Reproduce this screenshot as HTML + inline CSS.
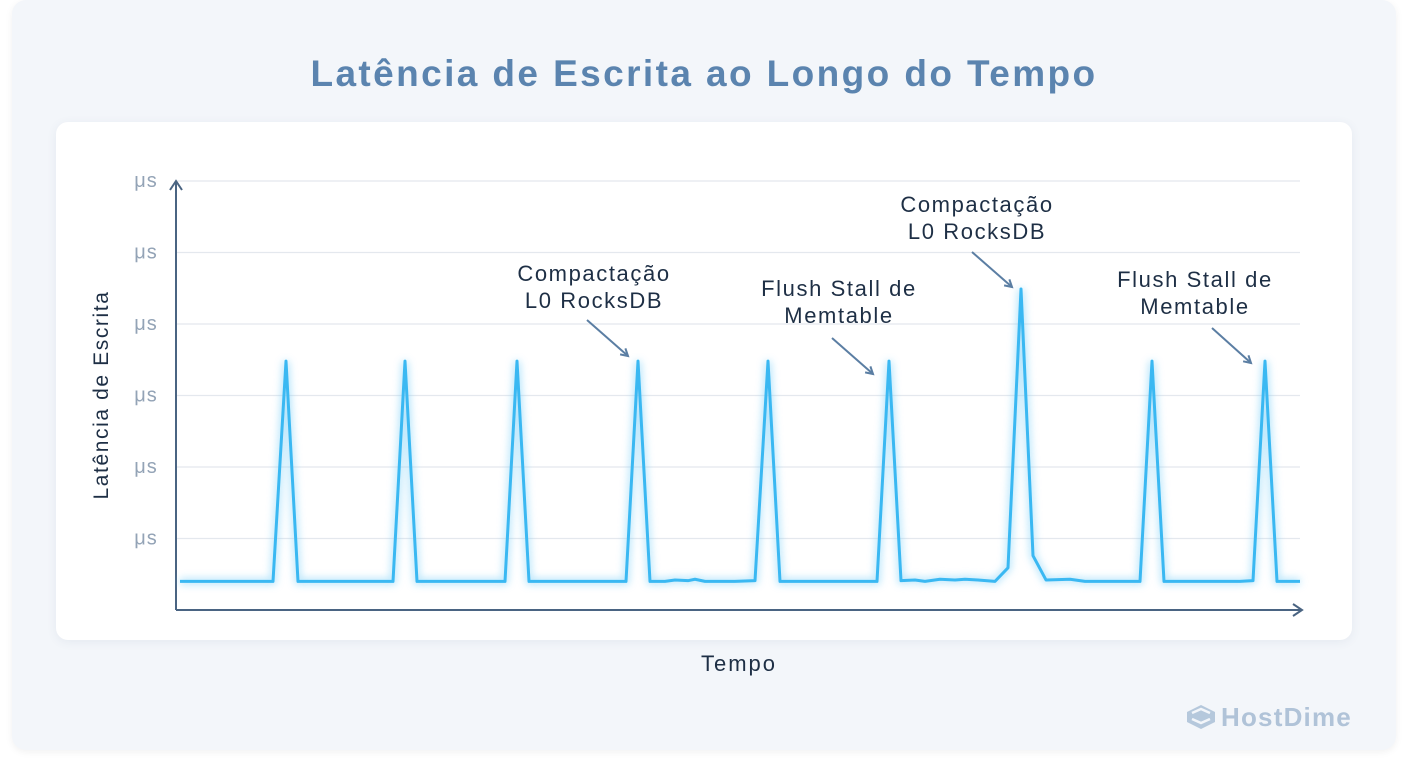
<!DOCTYPE html>
<html><head><meta charset="utf-8"><style>
body{margin:0;width:1408px;height:768px;background:#fff;font-family:"Liberation Sans",sans-serif;overflow:hidden}
#outer{position:absolute;left:12px;top:0;width:1384px;height:750px;background:#f3f6fa;border-radius:14px;box-shadow:0 2px 8px rgba(0,0,0,0.06)}
#panel{position:absolute;left:56px;top:122px;width:1296px;height:518px;background:#fff;border-radius:12px;box-shadow:0 2px 10px rgba(60,90,130,0.08)}
#title{position:absolute;left:0;width:1408px;top:53px;text-align:center;font-size:37px;letter-spacing:2.4px;font-weight:bold;color:#5b84af}
svg{position:absolute;left:0;top:0}
</style></head><body>
<div id="outer"></div>
<div id="panel"></div>
<div id="title">Latência de Escrita ao Longo do Tempo</div>
<svg id="chart" width="1408" height="768"></svg>
<script>
const yTicks=[1,2,3,4,5,6];
const yTickLabels=["μs","μs","μs","μs","μs","μs"];
const times=[4,97,110,122,217,229,241,329,341,353,450,462,474,489,499,512,519,529,539,559,579,592,604,701,713,725,739,749,764,779,789,802,819,832,845,857,870,894,909,964,976,988,1064,1077,1089,1101,1124];
const latency=[0.4,0.4,3.48,0.4,0.4,3.48,0.4,0.4,3.48,0.4,0.4,3.48,0.4,0.4,0.42,0.41,0.43,0.4,0.4,0.4,0.41,3.48,0.4,0.4,3.48,0.41,0.42,0.4,0.43,0.42,0.43,0.42,0.4,0.59,4.49,0.76,0.42,0.43,0.4,0.4,3.48,0.4,0.4,0.41,3.48,0.4,0.4];
const annotations=[
 {t:462,v:3.48,lines:["Compactação","L0 RocksDB"],lx:594,ly:281,ax:[587,320,628,356]},
 {t:713,v:3.48,lines:["Flush Stall de","Memtable"],lx:839,ly:296,ax:[832,338,873,374]},
 {t:845,v:4.49,lines:["Compactação","L0 RocksDB"],lx:977,ly:212,ax:[972,252,1012,287]},
 {t:1089,v:3.48,lines:["Flush Stall de","Memtable"],lx:1195,ly:287,ax:[1212,328,1251,363]}
];
const X=t=>176+t;
const Y=v=>610-v*71.5;
const svg=document.getElementById('chart');
const NS='http://www.w3.org/2000/svg';
function mk(tag,attrs,parent){const e=document.createElementNS(NS,tag);for(const k in attrs)e.setAttribute(k,attrs[k]);(parent||svg).appendChild(e);return e;}
const defs=mk('defs',{});
defs.innerHTML='<filter id="glow" x="-5%" y="-20%" width="110%" height="140%"><feGaussianBlur stdDeviation="4"/></filter><marker id="ah" markerWidth="10" markerHeight="10" refX="8" refY="5" orient="auto" markerUnits="userSpaceOnUse"><path d="M1,1 L8,5 L1,9" fill="none" stroke="#5b7ea3" stroke-width="2"/></marker>';
yTicks.forEach((v,i)=>{
 const g=mk('line',{x1:176,x2:1300,y1:Y(v),y2:Y(v),stroke:'#e4e8ee','stroke-width':1.2});
 
 
 const t=mk('text',{x:146,y:Y(v)+6,'text-anchor':'middle','font-size':20,'letter-spacing':1,fill:'#93a3b6'});
 t.textContent=yTickLabels[i];
 
 
});
const ya=mk('path',{d:'M176,610 L176,182 M170,190 L176,181 L182,190',stroke:'#4a6482','stroke-width':2,fill:'none'});


const xa=mk('path',{d:'M176,610 L1301,610 M1293,604 L1302,610 L1293,616',stroke:'#4a6482','stroke-width':2,fill:'none'});


const d=times.map((t,i)=>(i?'L':'M')+X(t)+','+Y(latency[i])).join(' ');
const glow=mk('path',{d:d,stroke:'#7fd0f8','stroke-width':6,fill:'none',opacity:0.6,filter:'url(#glow)'});


const line=mk('path',{d:d,stroke:'#3ab8f2','stroke-width':3,fill:'none','stroke-linejoin':'round'});


annotations.forEach(a=>{
 a.lines.forEach((s,j)=>{
  const t=mk('text',{x:a.lx,y:a.ly+j*27,'text-anchor':'middle','font-size':22,'letter-spacing':1.6,fill:'#1e2f45'});
  t.textContent=s;
  
  
 });
 const ar=mk('line',{x1:a.ax[0],y1:a.ax[1],x2:a.ax[2],y2:a.ax[3],stroke:'#5b7ea3','stroke-width':2,'marker-end':'url(#ah)'});
 
 
});
const yt=mk('text',{x:0,y:0,'text-anchor':'middle','font-size':21,'letter-spacing':1.6,fill:'#1e2f45',transform:'translate(108,395) rotate(-90)'});
yt.textContent='Latência de Escrita';


const xt=mk('text',{x:739,y:671,'text-anchor':'middle','font-size':22,'letter-spacing':2,fill:'#1e2f45'});
xt.textContent='Tempo';


const logo=mk('g',{});


mk('path',{d:'M1187,712 L1201,705 L1215,712 L1215,722 L1201,729 L1187,722 Z',fill:'#b5c8dc'},logo);
mk('path',{d:'M1192,713 L1201,709 L1210,713 M1192,719 L1201,723 L1210,719',stroke:'#f3f6fa','stroke-width':2.5,fill:'none'},logo);
const lt=mk('text',{x:1221,y:726,'font-size':26,'letter-spacing':1.2,'font-weight':'bold',fill:'#b0c3d8'},logo);
lt.textContent='HostDime';
</script>
</body></html>
